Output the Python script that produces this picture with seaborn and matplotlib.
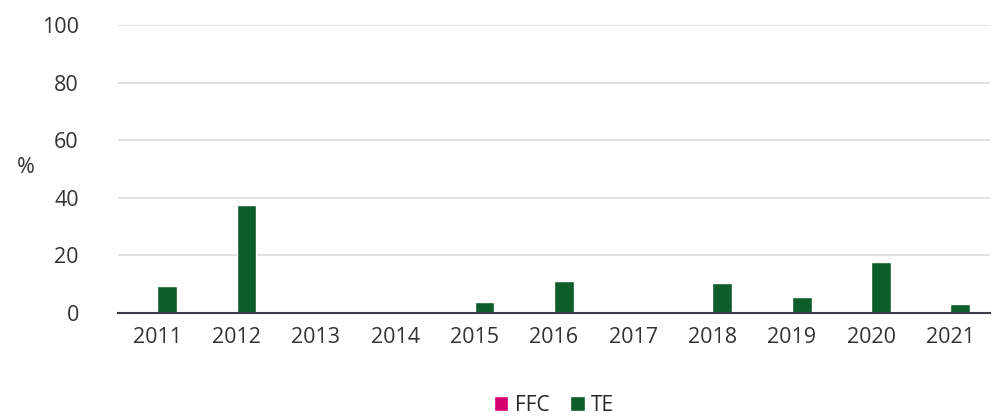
import matplotlib.pyplot as plt
import pandas as pd
import seaborn as sns

years = ['2011', '2012', '2013', '2014', '2015', '2016', '2017', '2018', '2019', '2020', '2021']
ffc = [0, 0, 0, 0, 0, 0, 0, 0, 0, 0, 0]
te = [9.4, 37.6, 0, 0, 3.8, 11.1, 0, 10.5, 5.6, 17.8, 3.1]

df = pd.DataFrame({'Year': years * 2,
                   'Value': ffc + te,
                   'Series': ['FFC'] * len(years) + ['TE'] * len(years)})

sns.set_style('white')
plt.rcParams['font.family'] = ['Open Sans', 'DejaVu Sans']

fig, ax = plt.subplots(figsize=(9.97, 4.2), dpi=100)
fig.subplots_adjust(left=0.118, right=0.993, top=0.94, bottom=0.255)

sns.barplot(data=df, x='Year', y='Value', hue='Series',
            palette={'FFC': '#d6006e', 'TE': '#0e5e2c'}, saturation=1,
            width=0.5, ax=ax, legend=True)

ax.set_ylim(0, 100)
ax.set_yticks(range(0, 101, 20))
ax.yaxis.grid(True, color='#dcdce0', linewidth=1.2)
ax.set_axisbelow(True)
for s in ['top', 'right', 'left']:
    ax.spines[s].set_visible(False)
ax.spines['bottom'].set_color('#3a3d45')
ax.spines['bottom'].set_linewidth(1.5)
ax.tick_params(axis='both', length=0, labelsize=15.5, colors='#333333', pad=10)
ax.tick_params(axis='y', pad=28)
ax.set_xlabel('')
ax.set_ylabel('%', rotation=0, fontsize=15.5, color='#333333')
ax.yaxis.set_label_coords(-0.105, 0.47)

ax.legend(loc='upper center', bbox_to_anchor=(0.5, -0.22), ncol=2, frameon=False,
          fontsize=15, handlelength=0.7, handleheight=0.7, handletextpad=0.3,
          columnspacing=1.0)

plt.savefig('out.png', dpi=100)
